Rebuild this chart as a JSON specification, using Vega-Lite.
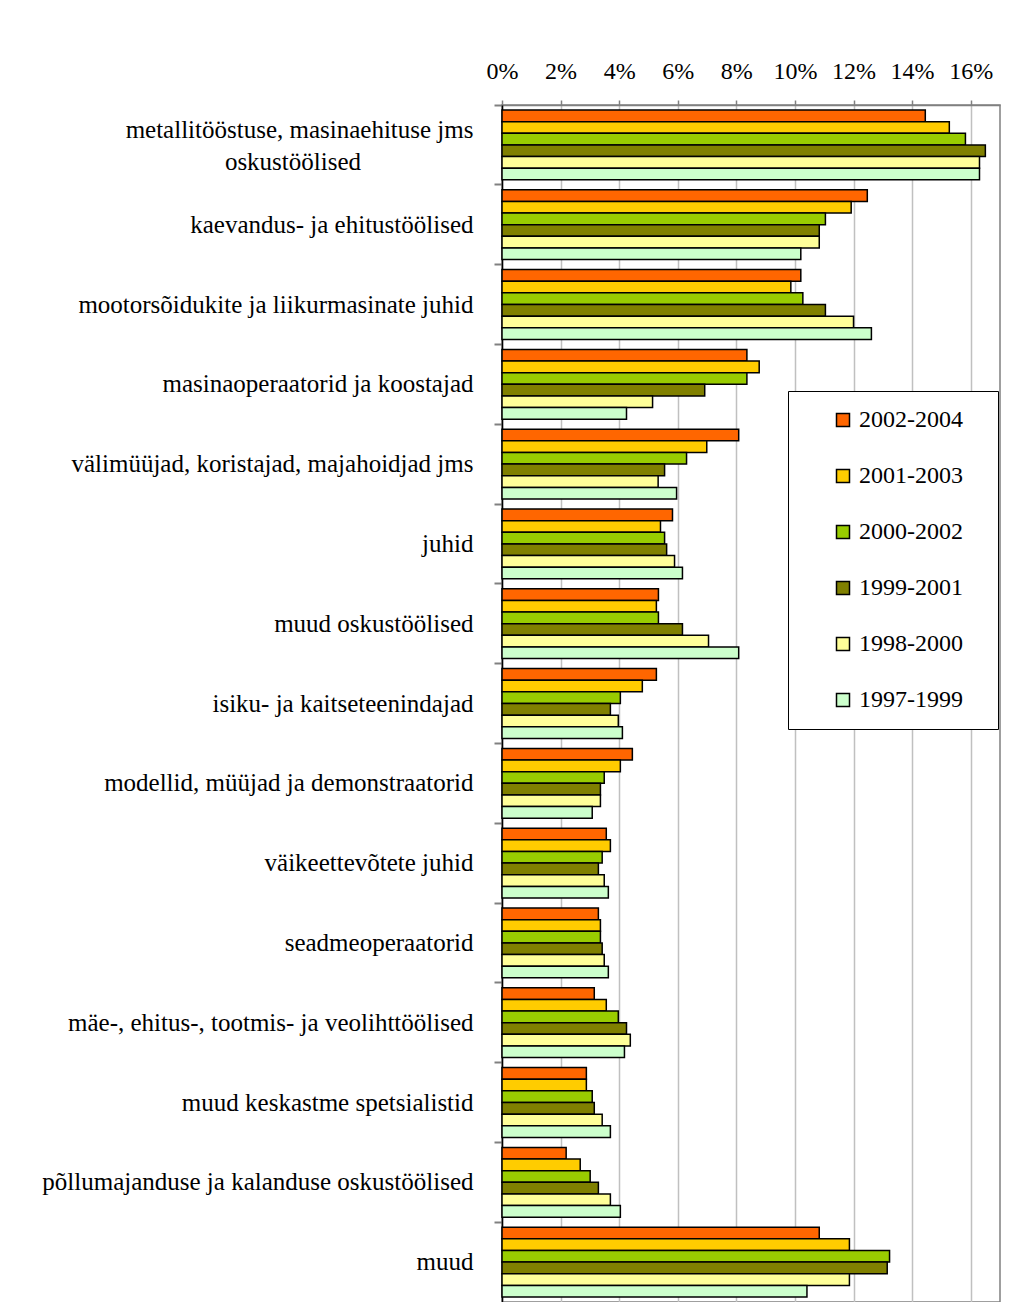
{
  "$schema": "https://vega.github.io/schema/vega-lite/v6.json",
  "autosize": "none",
  "padding": {"left": 502, "top": 105, "right": 11, "bottom": 0},
  "width": 498,
  "height": 1197,
  "background": "white",
  "config": {
    "font": "Liberation Serif",
    "view": {"stroke": "#808080", "strokeWidth": 1.5}
  },
  "data": {
    "values": [
      {"c": "metallitööstuse, masinaehituse jms oskustöölised", "p": "2002-2004", "v": 14.45},
      {"c": "metallitööstuse, masinaehituse jms oskustöölised", "p": "2001-2003", "v": 15.27},
      {"c": "metallitööstuse, masinaehituse jms oskustöölised", "p": "2000-2002", "v": 15.82},
      {"c": "metallitööstuse, masinaehituse jms oskustöölised", "p": "1999-2001", "v": 16.5},
      {"c": "metallitööstuse, masinaehituse jms oskustöölised", "p": "1998-2000", "v": 16.3},
      {"c": "metallitööstuse, masinaehituse jms oskustöölised", "p": "1997-1999", "v": 16.3},
      {"c": "kaevandus- ja ehitustöölised", "p": "2002-2004", "v": 12.47},
      {"c": "kaevandus- ja ehitustöölised", "p": "2001-2003", "v": 11.92},
      {"c": "kaevandus- ja ehitustöölised", "p": "2000-2002", "v": 11.04},
      {"c": "kaevandus- ja ehitustöölised", "p": "1999-2001", "v": 10.83},
      {"c": "kaevandus- ja ehitustöölised", "p": "1998-2000", "v": 10.83},
      {"c": "kaevandus- ja ehitustöölised", "p": "1997-1999", "v": 10.2},
      {"c": "mootorsõidukite ja liikurmasinate juhid", "p": "2002-2004", "v": 10.2},
      {"c": "mootorsõidukite ja liikurmasinate juhid", "p": "2001-2003", "v": 9.86},
      {"c": "mootorsõidukite ja liikurmasinate juhid", "p": "2000-2002", "v": 10.27},
      {"c": "mootorsõidukite ja liikurmasinate juhid", "p": "1999-2001", "v": 11.04},
      {"c": "mootorsõidukite ja liikurmasinate juhid", "p": "1998-2000", "v": 12.0},
      {"c": "mootorsõidukite ja liikurmasinate juhid", "p": "1997-1999", "v": 12.61},
      {"c": "masinaoperaatorid ja koostajad", "p": "2002-2004", "v": 8.36},
      {"c": "masinaoperaatorid ja koostajad", "p": "2001-2003", "v": 8.78},
      {"c": "masinaoperaatorid ja koostajad", "p": "2000-2002", "v": 8.36},
      {"c": "masinaoperaatorid ja koostajad", "p": "1999-2001", "v": 6.92},
      {"c": "masinaoperaatorid ja koostajad", "p": "1998-2000", "v": 5.14},
      {"c": "masinaoperaatorid ja koostajad", "p": "1997-1999", "v": 4.25},
      {"c": "välimüüjad, koristajad, majahoidjad jms", "p": "2002-2004", "v": 8.08},
      {"c": "välimüüjad, koristajad, majahoidjad jms", "p": "2001-2003", "v": 6.99},
      {"c": "välimüüjad, koristajad, majahoidjad jms", "p": "2000-2002", "v": 6.3},
      {"c": "välimüüjad, koristajad, majahoidjad jms", "p": "1999-2001", "v": 5.55},
      {"c": "välimüüjad, koristajad, majahoidjad jms", "p": "1998-2000", "v": 5.33},
      {"c": "välimüüjad, koristajad, majahoidjad jms", "p": "1997-1999", "v": 5.96},
      {"c": "juhid", "p": "2002-2004", "v": 5.82},
      {"c": "juhid", "p": "2001-2003", "v": 5.41},
      {"c": "juhid", "p": "2000-2002", "v": 5.55},
      {"c": "juhid", "p": "1999-2001", "v": 5.62},
      {"c": "juhid", "p": "1998-2000", "v": 5.89},
      {"c": "juhid", "p": "1997-1999", "v": 6.16},
      {"c": "muud oskustöölised", "p": "2002-2004", "v": 5.34},
      {"c": "muud oskustöölised", "p": "2001-2003", "v": 5.27},
      {"c": "muud oskustöölised", "p": "2000-2002", "v": 5.34},
      {"c": "muud oskustöölised", "p": "1999-2001", "v": 6.16},
      {"c": "muud oskustöölised", "p": "1998-2000", "v": 7.05},
      {"c": "muud oskustöölised", "p": "1997-1999", "v": 8.08},
      {"c": "isiku- ja kaitseteenindajad", "p": "2002-2004", "v": 5.27},
      {"c": "isiku- ja kaitseteenindajad", "p": "2001-2003", "v": 4.79},
      {"c": "isiku- ja kaitseteenindajad", "p": "2000-2002", "v": 4.04},
      {"c": "isiku- ja kaitseteenindajad", "p": "1999-2001", "v": 3.7},
      {"c": "isiku- ja kaitseteenindajad", "p": "1998-2000", "v": 3.97},
      {"c": "isiku- ja kaitseteenindajad", "p": "1997-1999", "v": 4.11},
      {"c": "modellid, müüjad ja demonstraatorid", "p": "2002-2004", "v": 4.45},
      {"c": "modellid, müüjad ja demonstraatorid", "p": "2001-2003", "v": 4.04},
      {"c": "modellid, müüjad ja demonstraatorid", "p": "2000-2002", "v": 3.49},
      {"c": "modellid, müüjad ja demonstraatorid", "p": "1999-2001", "v": 3.36},
      {"c": "modellid, müüjad ja demonstraatorid", "p": "1998-2000", "v": 3.36},
      {"c": "modellid, müüjad ja demonstraatorid", "p": "1997-1999", "v": 3.08},
      {"c": "väikeettevõtete juhid", "p": "2002-2004", "v": 3.56},
      {"c": "väikeettevõtete juhid", "p": "2001-2003", "v": 3.7},
      {"c": "väikeettevõtete juhid", "p": "2000-2002", "v": 3.42},
      {"c": "väikeettevõtete juhid", "p": "1999-2001", "v": 3.29},
      {"c": "väikeettevõtete juhid", "p": "1998-2000", "v": 3.49},
      {"c": "väikeettevõtete juhid", "p": "1997-1999", "v": 3.63},
      {"c": "seadmeoperaatorid", "p": "2002-2004", "v": 3.29},
      {"c": "seadmeoperaatorid", "p": "2001-2003", "v": 3.36},
      {"c": "seadmeoperaatorid", "p": "2000-2002", "v": 3.36},
      {"c": "seadmeoperaatorid", "p": "1999-2001", "v": 3.42},
      {"c": "seadmeoperaatorid", "p": "1998-2000", "v": 3.49},
      {"c": "seadmeoperaatorid", "p": "1997-1999", "v": 3.63},
      {"c": "mäe-, ehitus-, tootmis- ja veolihttöölised", "p": "2002-2004", "v": 3.15},
      {"c": "mäe-, ehitus-, tootmis- ja veolihttöölised", "p": "2001-2003", "v": 3.56},
      {"c": "mäe-, ehitus-, tootmis- ja veolihttöölised", "p": "2000-2002", "v": 3.97},
      {"c": "mäe-, ehitus-, tootmis- ja veolihttöölised", "p": "1999-2001", "v": 4.25},
      {"c": "mäe-, ehitus-, tootmis- ja veolihttöölised", "p": "1998-2000", "v": 4.38},
      {"c": "mäe-, ehitus-, tootmis- ja veolihttöölised", "p": "1997-1999", "v": 4.18},
      {"c": "muud keskastme spetsialistid", "p": "2002-2004", "v": 2.88},
      {"c": "muud keskastme spetsialistid", "p": "2001-2003", "v": 2.88},
      {"c": "muud keskastme spetsialistid", "p": "2000-2002", "v": 3.08},
      {"c": "muud keskastme spetsialistid", "p": "1999-2001", "v": 3.15},
      {"c": "muud keskastme spetsialistid", "p": "1998-2000", "v": 3.42},
      {"c": "muud keskastme spetsialistid", "p": "1997-1999", "v": 3.7},
      {"c": "põllumajanduse ja kalanduse oskustöölised", "p": "2002-2004", "v": 2.19},
      {"c": "põllumajanduse ja kalanduse oskustöölised", "p": "2001-2003", "v": 2.67},
      {"c": "põllumajanduse ja kalanduse oskustöölised", "p": "2000-2002", "v": 3.01},
      {"c": "põllumajanduse ja kalanduse oskustöölised", "p": "1999-2001", "v": 3.29},
      {"c": "põllumajanduse ja kalanduse oskustöölised", "p": "1998-2000", "v": 3.7},
      {"c": "põllumajanduse ja kalanduse oskustöölised", "p": "1997-1999", "v": 4.04},
      {"c": "muud", "p": "2002-2004", "v": 10.83},
      {"c": "muud", "p": "2001-2003", "v": 11.86},
      {"c": "muud", "p": "2000-2002", "v": 13.23},
      {"c": "muud", "p": "1999-2001", "v": 13.15},
      {"c": "muud", "p": "1998-2000", "v": 11.86},
      {"c": "muud", "p": "1997-1999", "v": 10.41}
    ]
  },
  "mark": {"type": "bar", "stroke": "black", "strokeWidth": 1.5},
  "encoding": {
    "y": {
      "field": "c",
      "type": "nominal",
      "sort": null,
      "scale": {"paddingInner": 0.125, "paddingOuter": 0.0625},
      "axis": {
        "title": null,
        "bandPosition": -0.0714,
        "domainColor": "black",
        "domainWidth": 1.5,
        "tickColor": "#808080",
        "tickWidth": 2,
        "tickSize": 8,
        "labelPadding": 21,
        "labelFont": "Liberation Serif",
        "labelFontSize": 25,
        "labelColor": "black",
        "labelLimit": 600,
        "labelLineHeight": 32,
        "labelOffset": {"condition": {"test": "datum.value == 'metallitööstuse, masinaehituse jms oskustöölised'", "value": -15}, "value": 0},
        "labelExpr": "datum.value == 'metallitööstuse, masinaehituse jms oskustöölised' ? ['metallitööstuse, masinaehituse jms', 'oskustöölised\u00a0\u00a0\u00a0\u00a0\u00a0\u00a0\u00a0\u00a0\u00a0\u00a0\u00a0\u00a0\u00a0\u00a0\u00a0\u00a0\u00a0\u00a0\u200b'] : datum.value"
      }
    },
    "yOffset": {
      "field": "p",
      "type": "nominal",
      "sort": ["2002-2004", "2001-2003", "2000-2002", "1999-2001", "1998-2000", "1997-1999"],
      "scale": {"paddingInner": 0, "paddingOuter": 0}
    },
    "x": {
      "field": "v",
      "type": "quantitative",
      "scale": {"domain": [0, 17], "nice": false},
      "axis": {
        "orient": "top",
        "title": null,
        "values": [0, 2, 4, 6, 8, 10, 12, 14, 16],
        "labelExpr": "datum.value + '%'",
        "grid": true,
        "gridColor": "#c0c0c0",
        "gridWidth": 1.5,
        "domainColor": "#808080",
        "domainWidth": 1.5,
        "tickColor": "#808080",
        "tickWidth": 1.5,
        "tickSize": 5,
        "labelPadding": 17,
        "labelFont": "Liberation Serif",
        "labelFontSize": 24,
        "labelColor": "black",
        "labelFlush": false
      }
    },
    "color": {
      "field": "p",
      "type": "nominal",
      "scale": {
        "domain": ["2002-2004", "2001-2003", "2000-2002", "1999-2001", "1998-2000", "1997-1999"],
        "range": ["#FF6600", "#FFCC00", "#99CC00", "#808000", "#FFFF99", "#CCFFCC"]
      },
      "legend": {
        "title": null,
        "orient": "none",
        "legendX": 286,
        "legendY": 286,
        "padding": 17,
        "fillColor": "white",
        "strokeColor": "black",
        "cornerRadius": 0,
        "symbolType": "square",
        "symbolSize": 169,
        "symbolStrokeColor": "black",
        "symbolStrokeWidth": 1.5,
        "symbolOffset": 26,
        "labelOffset": 4,
        "labelFont": "Liberation Serif",
        "labelFontSize": 24,
        "labelColor": "black",
        "labelLimit": 300,
        "rowPadding": 32,
        "labelExpr": "datum.label + '\u00a0\u00a0\u00a0\u200b'"
      }
    }
  }
}
